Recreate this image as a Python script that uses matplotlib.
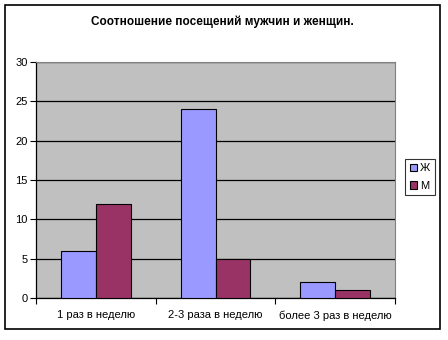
import numpy as np
import matplotlib
matplotlib.use("Agg")
import matplotlib.pyplot as plt
from matplotlib.patches import Rectangle

plt.rcParams['font.family'] = ['Liberation Sans', 'DejaVu Sans']

categories = ["1 раз в неделю", "2-3 раза в неделю", "более 3 раз в неделю"]
series_names = ["Ж", "М"]
women = [6, 24, 2]
men = [12, 5, 1]
colors = ["#9999FF", "#993366"]

fig = plt.figure(figsize=(4.48, 3.40), dpi=100)
fig.patch.set_facecolor("white")

# outer chart border
fig.patches.append(Rectangle((5 / 448, 1 - 329 / 340), 435 / 448, 324 / 340,
                             transform=fig.transFigure, fill=False,
                             edgecolor="black", lw=1.2))

ax = fig.add_axes([36 / 448, 1 - 298 / 340, 359 / 448, 236 / 340])
ax.set_facecolor("#C0C0C0")

x = np.arange(len(categories)) + 0.5
w = 0.292
ax.bar(x - w / 2, women, w, color=colors[0], edgecolor="black", lw=0.8,
       label=series_names[0], zorder=3)
ax.bar(x + w / 2, men, w, color=colors[1], edgecolor="black", lw=0.8,
       label=series_names[1], zorder=3)

ax.set_xlim(0, 3)
ax.set_ylim(0, 30)
ax.set_yticks(range(0, 31, 5))
ax.yaxis.grid(True, color="black", lw=0.9, zorder=1)
ax.set_axisbelow(True)

ax.set_xticks([0, 1, 2, 3])
ax.set_xticklabels([])
ax.set_xticks(x, minor=True)
ax.set_xticklabels(categories, minor=True, fontsize=8)
ax.tick_params(axis="x", which="minor", length=0, pad=9)
ax.tick_params(axis="x", which="major", length=4, direction="out", width=0.8)
ax.tick_params(axis="y", length=4, direction="out", width=0.8, labelsize=8, pad=2)

for s in ["top", "right"]:
    ax.spines[s].set_color("#808080")
    ax.spines[s].set_linewidth(0.8)
for s in ["left", "bottom"]:
    ax.spines[s].set_color("black")
    ax.spines[s].set_linewidth(0.9)

fig.text(222 / 448, 1 - 22 / 340, "Соотношение посещений мужчин и женщин.",
         ha="center", va="center", fontsize=8.5, fontweight="bold")

leg = fig.legend(loc="center", bbox_to_anchor=(420 / 448, 1 - 177 / 340),
                 fontsize=8, frameon=True, fancybox=False,
                 handlelength=0.6, handleheight=0.6, handletextpad=0.3,
                 borderpad=0.4, labelspacing=0.7, borderaxespad=0)
leg.get_frame().set_edgecolor("black")
leg.get_frame().set_linewidth(0.8)

fig.savefig("out.png", dpi=100)
